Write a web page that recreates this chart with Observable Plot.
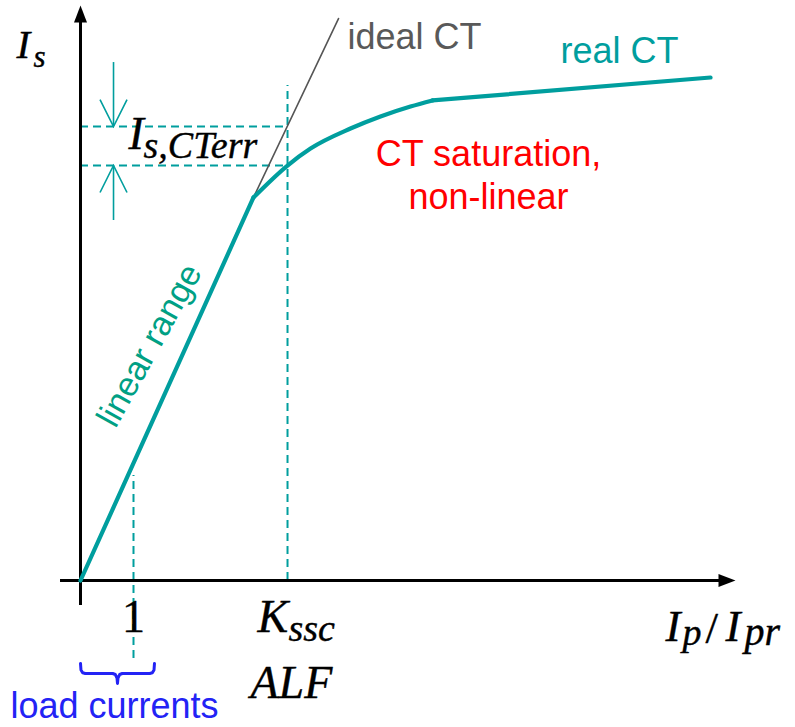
<!DOCTYPE html>
<html>
<head>
<meta charset="utf-8">
<script src="https://cdn.jsdelivr.net/npm/d3@7"></script>
<script src="https://cdn.jsdelivr.net/npm/@observablehq/plot@0.6"></script>
<style>
  html, body { margin: 0; padding: 0; background: #fff; }
  #chart svg { display: block; background: #fff; }
</style>
</head>
<body>
<div id="chart"></div>
<script>
// ---- data (x = Ip/Ipr, y = Is in relative units) ----
const realLinear = [
  {x: 0, y: 0},
  {x: 3.264, y: 3.274}
];
const realSaturation = [
  {x: 3.264, y: 3.274},
  {x: 3.906, y: 3.547},
  {x: 4.340, y: 3.692},
  {x: 5.094, y: 3.863},
  {x: 5.660, y: 3.966},
  {x: 6.226, y: 4.051},
  {x: 6.642, y: 4.103}
];
const realTail = [
  {x: 6.642, y: 4.103},
  {x: 11.887, y: 4.299}
];
const idealCT = [
  {x: 3.264, y: 3.274},
  {x: 4.868, y: 4.803}
];
const ratedPoint = 1;        // "1"
const kssc = 3.906;          // Kssc / ALF
const errLevels = [3.547, 3.880]; // real and ideal Is at Kssc
const loadRange = [0, 1.396];

const teal = "#009e9e";
const blue = "#2323f5";
const serif = "Liberation Serif, DejaVu Serif, serif";
const sans = "Liberation Sans, Arial, sans-serif";

// filled arrow head (tip at origin, pointing up)
const axisHead = {draw(ctx, size) {
  const r = Math.sqrt(size / Math.PI);
  ctx.moveTo(0, 0); ctx.lineTo(6.5 * r, 17 * r); ctx.lineTo(-6.5 * r, 17 * r); ctx.closePath();
}};
// open V arrow head (tip at origin, pointing up)
const vHead = {draw(ctx, size) {
  const r = Math.sqrt(size / Math.PI);
  ctx.moveTo(-13.5 * r, 27 * r); ctx.lineTo(0, 0); ctx.lineTo(13.5 * r, 27 * r);
}};

// curly brace under the load-current range
function bracePoints([a, b], yTop, yMid, yTip) {
  const m = (a + b) / 2, dx = 0.09, dy = yTop - yMid;
  const half = (s, e, sign) => [
    [s, yTop], [s + sign * dx * 0.1, yMid + dy * 0.35], [s + sign * dx * 0.45, yMid + dy * 0.07], [s + sign * dx, yMid],
    [e - sign * dx, yMid], [e - sign * dx * 0.45, yMid - dy * 0.1], [e - sign * dx * 0.1, yMid - dy * 0.45], [e, yTip]
  ];
  const left = half(a, m, 1);
  const right = half(b, m, -1).reverse();
  return left.concat(right).map(([x, y]) => ({x, y}));
}
const brace = bracePoints(loadRange, -0.709, -0.795, -0.880);

const mathStyle = {textAnchor: "start", lineAnchor: "bottom", fontFamily: serif, fill: "black", stroke: "black", strokeWidth: 0.4};

const chart = Plot.plot({
  width: 795,
  height: 727,
  margin: 0,
  x: {domain: [-80 / 53, 715 / 53], axis: null},
  y: {domain: [-147 / 117, 580 / 117], axis: null},
  style: {background: "#fff"},
  marks: [
    // dashed guides
    Plot.ruleY(errLevels, {x1: 0, x2: kssc, stroke: teal, strokeWidth: 2, strokeDasharray: "8,5"}),
    Plot.ruleX([kssc], {y1: 0, y2: 4.231, stroke: teal, strokeWidth: 2, strokeDasharray: "8,5"}),
    Plot.ruleX([ratedPoint], {y1: -0.667, y2: 0.897, stroke: teal, strokeWidth: 2, strokeDasharray: "8,5"}),
    // axes
    Plot.ruleY([0], {x1: -0.377, x2: 12.12, stroke: "black", strokeWidth: 3}),
    Plot.ruleX([0], {y1: -0.214, y2: 4.83, stroke: "black", strokeWidth: 3}),
    Plot.dot([{x: 0, y: 4.915}], {x: "x", y: "y", r: 1, symbol: axisHead, fill: "black", stroke: "none"}),
    Plot.dot([{x: 12.358, y: 0}], {x: "x", y: "y", r: 1, rotate: 90, symbol: axisHead, fill: "black", stroke: "none"}),
    // error arrows
    Plot.ruleX([0.623], {y1: 4.427, y2: errLevels[1], stroke: teal, strokeWidth: 1.6}),
    Plot.ruleX([0.623], {y1: 3.077, y2: errLevels[0], stroke: teal, strokeWidth: 1.6}),
    Plot.dot([{x: 0.623, y: errLevels[1]}], {x: "x", y: "y", r: 1, rotate: 180, symbol: vHead, fill: "none", stroke: teal, strokeWidth: 1.6}),
    Plot.dot([{x: 0.623, y: errLevels[0]}], {x: "x", y: "y", r: 1, rotate: 0, symbol: vHead, fill: "none", stroke: teal, strokeWidth: 1.6}),
    // ideal CT
    Plot.line(idealCT, {x: "x", y: "y", stroke: "#555555", strokeWidth: 1.6}),
    // real CT
    Plot.line(realLinear, {x: "x", y: "y", stroke: teal, strokeWidth: 4.2, strokeLinecap: "round"}),
    Plot.line(realSaturation, {x: "x", y: "y", stroke: teal, strokeWidth: 4.2, curve: "monotone-x", strokeLinecap: "round"}),
    Plot.line(realTail, {x: "x", y: "y", stroke: teal, strokeWidth: 4.2}),
    // brace
    Plot.line(brace, {x: "x", y: "y", stroke: blue, strokeWidth: 3, curve: "linear", strokeLinejoin: "round"}),
    // text labels
    Plot.text(["ideal CT"], {x: 5.038, y: 4.547, textAnchor: "start", lineAnchor: "bottom", fontSize: 36, fontFamily: sans, fill: "#595959"}),
    Plot.text(["real CT"], {x: 9.057, y: 4.419, textAnchor: "start", lineAnchor: "bottom", fontSize: 36, fontFamily: sans, fill: teal}),
    Plot.text(["CT saturation,"], {x: 7.698, y: 3.547, textAnchor: "middle", lineAnchor: "bottom", fontSize: 36, fontFamily: sans, fill: "#ff0000"}),
    Plot.text(["non-linear"], {x: 7.698, y: 3.179, textAnchor: "middle", lineAnchor: "bottom", fontSize: 36, fontFamily: sans, fill: "#ff0000"}),
    Plot.text(["linear range"], {x: 1.302, y: 2.009, textAnchor: "middle", lineAnchor: "middle", rotate: -61, fontSize: 34, fontFamily: sans, fill: "#00a084"}),
    Plot.text(["load currents"], {x: -1.321, y: -1.179, textAnchor: "start", lineAnchor: "bottom", fontSize: 36, fontFamily: sans, fill: blue}),
    // math labels
    Plot.text(["I"], {...mathStyle, x: -1.208, y: 4.470, fontSize: 41, fontStyle: "italic"}),
    Plot.text(["s"], {...mathStyle, x: -0.887, y: 4.393, fontSize: 31, fontStyle: "italic"}),
    Plot.text(["I"], {...mathStyle, x: 0.906, y: 3.692, fontSize: 46, fontStyle: "italic"}),
    Plot.text(["s,CTerr"], {...mathStyle, x: 1.189, y: 3.615, fontSize: 38, fontStyle: "italic"}),
    Plot.text(["1"], {...mathStyle, x: ratedPoint, y: -0.444, textAnchor: "middle", fontSize: 46}),
    Plot.text(["K"], {...mathStyle, x: 3.340, y: -0.444, fontSize: 46, fontStyle: "italic"}),
    Plot.text(["ssc"], {...mathStyle, x: 3.925, y: -0.513, fontSize: 38, fontStyle: "italic"}),
    Plot.text(["ALF"], {...mathStyle, x: 3.208, y: -1.000, fontSize: 46, fontStyle: "italic"}),
    Plot.text(["I"], {...mathStyle, x: 11.038, y: -0.513, fontSize: 45, fontStyle: "italic"}),
    Plot.text(["p"], {...mathStyle, x: 11.358, y: -0.555, fontSize: 38, fontStyle: "italic"}),
    Plot.text(["/"], {...mathStyle, x: 11.793, y: -0.530, fontSize: 45}),
    Plot.text(["I"], {...mathStyle, x: 12.170, y: -0.513, fontSize: 45, fontStyle: "italic"}),
    Plot.text(["pr"], {...mathStyle, x: 12.530, y: -0.555, fontSize: 40, fontStyle: "italic"})
  ]
});
document.getElementById("chart").appendChild(chart);
</script>
</body>
</html>
